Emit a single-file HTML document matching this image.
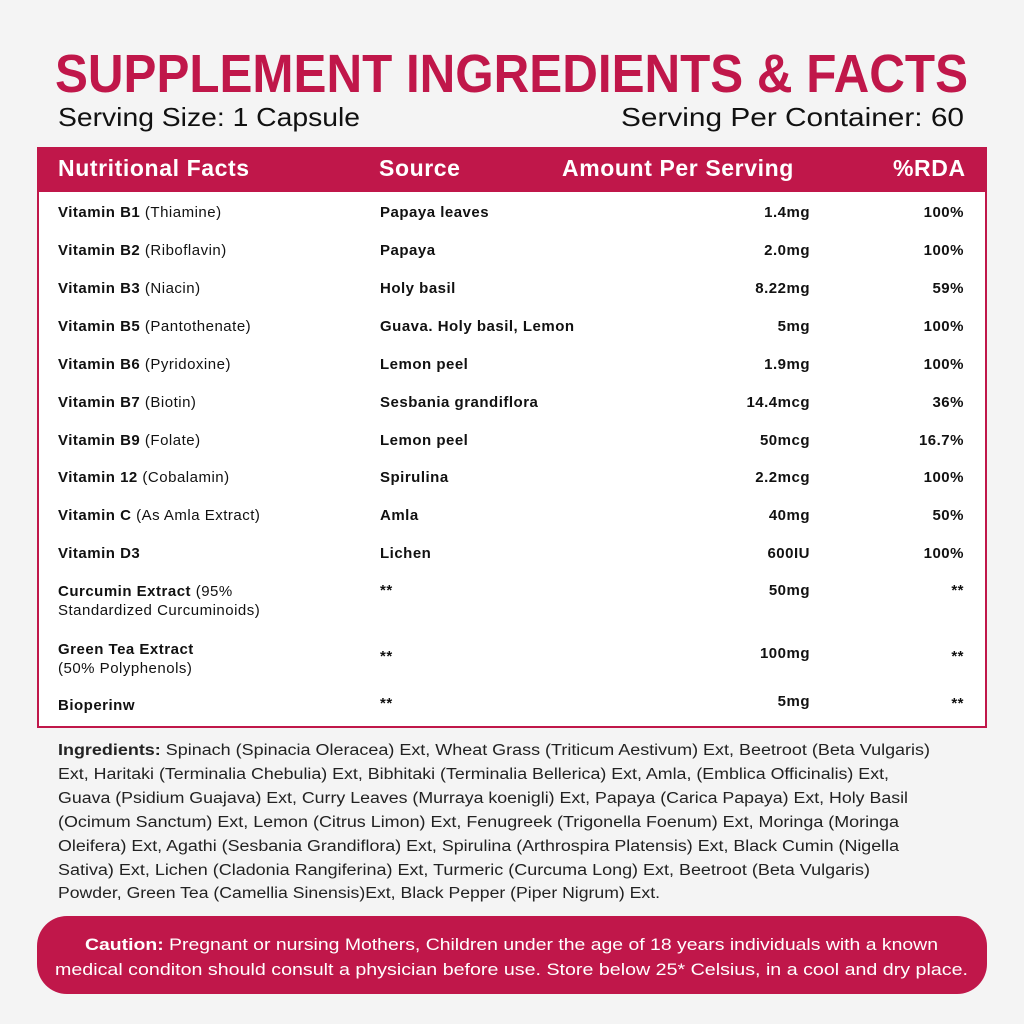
<!DOCTYPE html>
<html><head><meta charset="utf-8"><style>
body{margin:0;width:1024px;height:1024px;background:#f4f4f4;font-family:"Liberation Sans",sans-serif;position:relative;overflow:hidden;color:#111}
.a{position:absolute;white-space:nowrap}
.box{position:absolute;left:37px;top:147px;width:946px;height:577px;background:#fff;border:2px solid #c0174a}
.hd{position:absolute;left:37px;top:147px;width:950px;height:45px;background:#c0174a}
.h{color:#fff;font-weight:bold;font-size:23px;top:155px;letter-spacing:0.6px}
.r{font-size:15px;letter-spacing:0.5px}
.b{font-weight:bold}
.rt{text-align:right}
.cau{position:absolute;left:37px;top:916px;width:950px;height:78px;background:#c0174a;border-radius:30px}
</style></head><body>
<svg class="a" style="left:0;top:0" width="1024" height="140">
<text x="55" y="92" textLength="913" lengthAdjust="spacingAndGlyphs" font-family="Liberation Sans" font-weight="bold" font-size="54" fill="#c0174a">SUPPLEMENT INGREDIENTS &amp; FACTS</text>
<text x="58" y="126" textLength="302" lengthAdjust="spacingAndGlyphs" font-family="Liberation Sans" font-size="26" fill="#111">Serving Size: 1 Capsule</text>
<text x="621" y="126" textLength="343" lengthAdjust="spacingAndGlyphs" font-family="Liberation Sans" font-size="26" fill="#111">Serving Per Container: 60</text>
</svg>
<div class="box"></div><div class="hd"></div>
<div class="a h" style="left:58px">Nutritional Facts</div>
<div class="a h" style="left:379px">Source</div>
<div class="a h" style="left:562px">Amount Per Serving</div>
<div class="a h" style="left:893px">%RDA</div>

<div class="a r" style="left:58px;top:204px"><b>Vitamin B1</b> (Thiamine)</div>
<div class="a r" style="left:58px;top:242px"><b>Vitamin B2</b> (Riboflavin)</div>
<div class="a r" style="left:58px;top:280px"><b>Vitamin B3</b> (Niacin)</div>
<div class="a r" style="left:58px;top:318px"><b>Vitamin B5</b> (Pantothenate)</div>
<div class="a r" style="left:58px;top:356px"><b>Vitamin B6</b> (Pyridoxine)</div>
<div class="a r" style="left:58px;top:394px"><b>Vitamin B7</b> (Biotin)</div>
<div class="a r" style="left:58px;top:432px"><b>Vitamin B9</b> (Folate)</div>
<div class="a r" style="left:58px;top:469px"><b>Vitamin 12</b> (Cobalamin)</div>
<div class="a r" style="left:58px;top:507px"><b>Vitamin C</b> (As Amla Extract)</div>
<div class="a r" style="left:58px;top:545px"><b>Vitamin D3</b></div>
<div class="a r" style="left:58px;top:582px;line-height:19px"><b>Curcumin Extract</b> (95%<br>Standardized Curcuminoids)</div>
<div class="a r" style="left:58px;top:640px;line-height:19px"><b>Green Tea Extract</b><br>(50% Polyphenols)</div>
<div class="a r b" style="left:58px;top:697px">Bioperinw</div>

<div class="a r b" style="left:380px;top:204px">Papaya leaves</div>
<div class="a r b" style="left:380px;top:242px">Papaya</div>
<div class="a r b" style="left:380px;top:280px">Holy basil</div>
<div class="a r b" style="left:380px;top:318px">Guava. Holy basil, Lemon</div>
<div class="a r b" style="left:380px;top:356px">Lemon peel</div>
<div class="a r b" style="left:380px;top:394px">Sesbania grandiflora</div>
<div class="a r b" style="left:380px;top:432px">Lemon peel</div>
<div class="a r b" style="left:380px;top:469px">Spirulina</div>
<div class="a r b" style="left:380px;top:507px">Amla</div>
<div class="a r b" style="left:380px;top:545px">Lichen</div>
<div class="a r b" style="left:380px;top:582px">**</div>
<div class="a r b" style="left:380px;top:648px">**</div>
<div class="a r b" style="left:380px;top:695px">**</div>

<div class="a r b rt" style="right:214px;top:204px">1.4mg</div>
<div class="a r b rt" style="right:214px;top:242px">2.0mg</div>
<div class="a r b rt" style="right:214px;top:280px">8.22mg</div>
<div class="a r b rt" style="right:214px;top:318px">5mg</div>
<div class="a r b rt" style="right:214px;top:356px">1.9mg</div>
<div class="a r b rt" style="right:214px;top:394px">14.4mcg</div>
<div class="a r b rt" style="right:214px;top:432px">50mcg</div>
<div class="a r b rt" style="right:214px;top:469px">2.2mcg</div>
<div class="a r b rt" style="right:214px;top:507px">40mg</div>
<div class="a r b rt" style="right:214px;top:545px">600IU</div>
<div class="a r b rt" style="right:214px;top:582px">50mg</div>
<div class="a r b rt" style="right:214px;top:645px">100mg</div>
<div class="a r b rt" style="right:214px;top:693px">5mg</div>

<div class="a r b rt" style="right:60px;top:204px">100%</div>
<div class="a r b rt" style="right:60px;top:242px">100%</div>
<div class="a r b rt" style="right:60px;top:280px">59%</div>
<div class="a r b rt" style="right:60px;top:318px">100%</div>
<div class="a r b rt" style="right:60px;top:356px">100%</div>
<div class="a r b rt" style="right:60px;top:394px">36%</div>
<div class="a r b rt" style="right:60px;top:432px">16.7%</div>
<div class="a r b rt" style="right:60px;top:469px">100%</div>
<div class="a r b rt" style="right:60px;top:507px">50%</div>
<div class="a r b rt" style="right:60px;top:545px">100%</div>
<div class="a r b rt" style="right:60px;top:582px">**</div>
<div class="a r b rt" style="right:60px;top:648px">**</div>
<div class="a r b rt" style="right:60px;top:695px">**</div>

<div class="cau"></div>
<svg class="a" style="left:0;top:730px" width="1024" height="294" font-family="Liberation Sans" font-size="15.5" fill="#222">
<text x="58" y="25" textLength="872" lengthAdjust="spacingAndGlyphs"><tspan font-weight="bold">Ingredients:</tspan> Spinach (Spinacia Oleracea) Ext, Wheat Grass (Triticum Aestivum) Ext, Beetroot (Beta Vulgaris)</text>
<text x="58" y="49" textLength="831" lengthAdjust="spacingAndGlyphs">Ext, Haritaki (Terminalia Chebulia) Ext, Bibhitaki (Terminalia Bellerica) Ext, Amla, (Emblica Officinalis) Ext,</text>
<text x="58" y="73" textLength="850" lengthAdjust="spacingAndGlyphs">Guava (Psidium Guajava) Ext, Curry Leaves (Murraya koenigli) Ext, Papaya (Carica Papaya) Ext, Holy Basil</text>
<text x="58" y="97" textLength="841" lengthAdjust="spacingAndGlyphs">(Ocimum Sanctum) Ext, Lemon (Citrus Limon) Ext, Fenugreek (Trigonella Foenum) Ext, Moringa (Moringa</text>
<text x="58" y="121" textLength="841" lengthAdjust="spacingAndGlyphs">Oleifera) Ext, Agathi (Sesbania Grandiflora) Ext, Spirulina (Arthrospira Platensis) Ext, Black Cumin (Nigella</text>
<text x="58" y="145" textLength="812" lengthAdjust="spacingAndGlyphs">Sativa) Ext, Lichen (Cladonia Rangiferina) Ext, Turmeric (Curcuma Long) Ext, Beetroot (Beta Vulgaris)</text>
<text x="58" y="168" textLength="602" lengthAdjust="spacingAndGlyphs">Powder, Green Tea (Camellia Sinensis)Ext, Black Pepper (Piper Nigrum) Ext.</text>
<text x="85" y="220" textLength="853" lengthAdjust="spacingAndGlyphs" fill="#fff" font-size="16.5"><tspan font-weight="bold">Caution:</tspan> Pregnant or nursing Mothers, Children under the age of 18 years individuals with a known</text>
<text x="55" y="245" textLength="913" lengthAdjust="spacingAndGlyphs" fill="#fff" font-size="16.5">medical conditon should consult a physician before use. Store below 25* Celsius, in a cool and dry place.</text>
</svg>
</body></html>
